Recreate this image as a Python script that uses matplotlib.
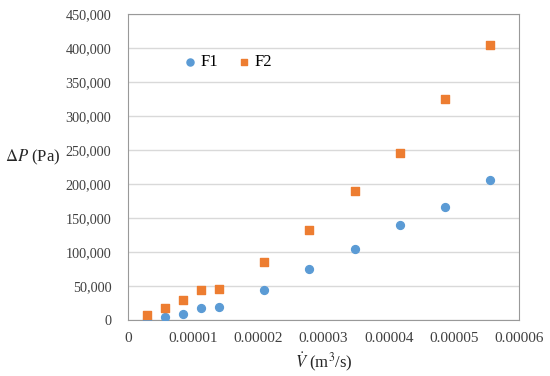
import matplotlib
matplotlib.use("Agg")
from matplotlib import pyplot as plt
from matplotlib.ticker import FuncFormatter

# 数据
flow_f1 = [2.87e-6, 5.63e-6, 8.39e-6, 1.12e-5, 1.40e-5, 2.09e-5, 2.78e-5, 3.48e-5, 4.17e-5, 4.86e-5, 5.55e-5]
dp_f1 = [1000, 4000, 8400, 17200, 19100, 44100, 74500, 104000, 139000, 166000, 206000]
flow_f2 = [2.87e-6, 5.63e-6, 8.39e-6, 1.12e-5, 1.40e-5, 2.09e-5, 2.78e-5, 3.48e-5, 4.17e-5, 4.86e-5, 5.55e-5]
dp_f2 = [7800, 18000, 30000, 43700, 46000, 85300, 132000, 189000, 245000, 325000, 404000]

plt.rcParams['font.family'] = ['Liberation Serif', 'DejaVu Serif']
plt.rcParams['mathtext.fontset'] = 'stix'

fig = plt.figure(figsize=(5.5, 3.76), dpi=100)
ax = fig.add_axes([0.2327, 0.149, 0.7109, 0.8138])

ax.scatter(flow_f1, dp_f1, s=32, color='#5B9BD5', marker='o', label='F1', zorder=3)
ax.scatter(flow_f2, dp_f2, s=30, color='#ED7D31', marker='s', label='F2', zorder=3)

ax.set_xlim(0, 0.00006)
ax.set_ylim(0, 450000)
ax.set_xticks([0, 0.00001, 0.00002, 0.00003, 0.00004, 0.00005, 0.00006])
ax.set_xticklabels(['0', '0.00001', '0.00002', '0.00003', '0.00004', '0.00005', '0.00006'])
ax.set_yticks(range(0, 450001, 50000))
ax.yaxis.set_major_formatter(FuncFormatter(lambda v, p: f"{int(v):,}"))

ax.grid(axis='y', color='#d9d9d9', linewidth=1.0, zorder=0)
for s in ax.spines.values():
    s.set_color('#999999')
ax.tick_params(length=0, labelsize=11, colors='#404040')
ax.tick_params(axis='y', pad=12, labelsize=10.2)
ax.tick_params(axis='x', pad=9)

ax.set_xlabel(r'$\dot{V}$ (m$^3$/s)', fontsize=12, color='#262626', labelpad=4)
ax.set_ylabel(r'$\Delta P$ (Pa)', fontsize=12, color='#262626', rotation=0)
ax.yaxis.set_label_coords(-0.245, 0.50)

ax.legend(loc='upper left', bbox_to_anchor=(0.125, 0.895), ncol=2, frameon=False,
          fontsize=12, handlelength=0.6, handletextpad=0.3, columnspacing=1.3,
          markerscale=0.9, borderpad=0)

plt.savefig('out.png')
plt.close()
